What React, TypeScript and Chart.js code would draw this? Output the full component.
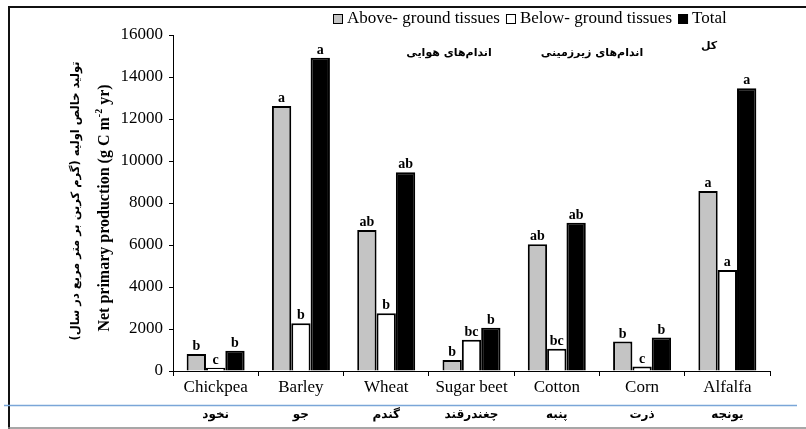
import React, { useEffect, useRef } from "react";
import { Chart, registerables } from "chart.js";

Chart.register(...registerables);

const categories = ["Chickpea", "Barley", "Wheat", "Sugar beet", "Cotton", "Corn", "Alfalfa"];
const categoriesFa = ["نخود", "جو", "گندم", "چغندرقند", "پنبه", "ذرت", "یونجه"];
const aboveGround = [810, 12620, 6710, 520, 6030, 1400, 8570];
const belowGround = [160, 2270, 2750, 1490, 1060, 210, 4810];
const total = [970, 14920, 9460, 2060, 7060, 1590, 13460];
const aboveLetters = ["b", "a", "ab", "b", "ab", "b", "a"];
const belowLetters = ["c", "b", "b", "bc", "bc", "c", "a"];
const totalLetters = ["b", "a", "ab", "b", "ab", "b", "a"];
const seriesNames = ["Above- ground tissues", "Below- ground tissues", "Total"];
const seriesNamesFa = ["اندام‌های هوایی", "اندام‌های زیرزمینی", "کل"];
const yTitleEn = ["Net primary production (g C m", "-2", " yr)"];
const yTitleFa = "تولید خالص اولیه (گرم کربن بر متر مربع در سال)";

const SERIF = "'Liberation Serif', 'Times New Roman', serif";
const FA = "'DejaVu Sans', sans-serif";
const GREY = "#c4c4c4";

export default function App() {
  const ref = useRef<HTMLCanvasElement | null>(null);

  useEffect(() => {
    const canvas = ref.current;
    if (!canvas) return;
    const letters = [aboveLetters, belowLetters, totalLetters];
    const fills = [GREY, "#ffffff", "#000000"];

    const decor = {
      id: "decor",
      afterDatasetsDraw(chart: any) {
        const ctx = chart.ctx;
        ctx.save();
        // letters above bars
        ctx.fillStyle = "#000";
        ctx.font = `bold 14px ${SERIF}`;
        ctx.textAlign = "center";
        ctx.textBaseline = "alphabetic";
        chart.data.datasets.forEach((ds: any, di: number) => {
          const meta = chart.getDatasetMeta(di);
          meta.data.forEach((bar: any, i: number) => {
            ctx.fillText(letters[di][i], bar.x, bar.y - 4);
          });
        });
        // Persian category labels
        const xs = chart.scales.x;
        ctx.font = `bold 12px ${FA}`;
        ctx.textBaseline = "middle";
        categoriesFa.forEach((t, i) => {
          ctx.fillText(t, xs.getPixelForValue(i), 415);
        });
        // legend
        ctx.font = `17px ${SERIF}`;
        ctx.textAlign = "left";
        let x = 333;
        const ly = 19;
        seriesNames.forEach((name, i) => {
          ctx.fillStyle = fills[i];
          ctx.fillRect(x, ly - 5, 10, 10);
          ctx.strokeStyle = "#000";
          ctx.lineWidth = 1;
          ctx.strokeRect(x + 0.5, ly - 4.5, 9, 9);
          ctx.fillStyle = "#000";
          ctx.fillText(name, x + 14, ly);
          x += 14 + ctx.measureText(name).width + 6;
        });
        ctx.font = `bold 11px ${FA}`;
        ctx.textAlign = "center";
        ctx.fillText(seriesNamesFa[0], 449, 53);
        ctx.fillText(seriesNamesFa[1], 592, 53);
        ctx.fillText(seriesNamesFa[2], 709, 46);
        // y titles
        ctx.save();
        ctx.translate(105, 208);
        ctx.rotate(-Math.PI / 2);
        ctx.font = `bold 16px ${SERIF}`;
        const w0 = ctx.measureText(yTitleEn[0]).width;
        const w2 = ctx.measureText(yTitleEn[2]).width;
        ctx.font = `bold 10px ${SERIF}`;
        const w1 = ctx.measureText(yTitleEn[1]).width;
        const tw = w0 + w1 + w2;
        let tx = -tw / 2;
        ctx.textAlign = "left";
        ctx.textBaseline = "middle";
        ctx.font = `bold 16px ${SERIF}`;
        ctx.fillText(yTitleEn[0], tx, 0);
        tx += w0;
        ctx.font = `bold 10px ${SERIF}`;
        ctx.fillText(yTitleEn[1], tx, -6);
        tx += w1;
        ctx.font = `bold 16px ${SERIF}`;
        ctx.fillText(yTitleEn[2], tx, 0);
        ctx.restore();
        ctx.save();
        ctx.translate(76, 201);
        ctx.rotate(-Math.PI / 2);
        ctx.font = `bold 11.5px ${FA}`;
        ctx.textAlign = "center";
        ctx.textBaseline = "middle";
        ctx.fillText(yTitleFa, 0, 0);
        ctx.restore();
        // frame lines
        ctx.strokeStyle = "#111";
        ctx.lineWidth = 2;
        ctx.beginPath();
        ctx.moveTo(8, 7);
        ctx.lineTo(806, 7);
        ctx.moveTo(9, 7);
        ctx.lineTo(9, 429);
        ctx.stroke();
        ctx.strokeStyle = "#7aa6d8";
        ctx.lineWidth = 1.5;
        ctx.beginPath();
        ctx.moveTo(4, 405.5);
        ctx.lineTo(797, 405.5);
        ctx.stroke();
        ctx.strokeStyle = "#8a8a8a";
        ctx.lineWidth = 1.5;
        ctx.beginPath();
        ctx.moveTo(8, 428);
        ctx.lineTo(806, 428);
        ctx.stroke();
        ctx.restore();
      },
    };

    const chart = new Chart(canvas, {
      type: "bar",
      data: {
        labels: categories,
        datasets: [
          { label: seriesNames[0], data: aboveGround, backgroundColor: GREY, borderColor: "#000", borderWidth: 2 },
          { label: seriesNames[1], data: belowGround, backgroundColor: "#ffffff", borderColor: "#000", borderWidth: 2 },
          { label: seriesNames[2], data: total, backgroundColor: "#000000", borderColor: "#000", borderWidth: 2 },
        ],
      },
      options: {
        responsive: false,
        animation: false,
        devicePixelRatio: 1,
        layout: { autoPadding: false, padding: { left: 0, right: 36, top: 35, bottom: 0 } },
        datasets: { bar: { categoryPercentage: 0.68, barPercentage: 1 } },
        plugins: { legend: { display: false }, tooltip: { enabled: false } },
        scales: {
          x: {
            grid: { offset: true, drawOnChartArea: false, drawTicks: true, tickLength: 5, color: "#000" },
            border: { color: "#000", width: 1 },
            ticks: { color: "#000", font: { family: SERIF, size: 17 }, padding: 1, maxRotation: 0 },
            afterFit: (s: any) => {
              s.height = 58;
            },
          },
          y: {
            min: 0,
            max: 16000,
            grid: { drawOnChartArea: false, drawTicks: true, tickLength: 4, color: "#000" },
            border: { color: "#000", width: 1 },
            ticks: {
              stepSize: 2000,
              color: "#000",
              font: { family: SERIF, size: 17 },
              padding: 6,
              callback: (v: any) => String(v),
            },
            afterFit: (s: any) => {
              s.width = 173;
            },
          },
        },
      },
      plugins: [decor],
    } as any);
    return () => chart.destroy();
  }, []);

  return (
    <div style={{ position: "fixed", left: 0, top: 0, width: 806, height: 429, background: "#fff" }}>
      <canvas ref={ref} width={806} height={429} style={{ display: "block", width: 806, height: 429 }} />
    </div>
  );
}
